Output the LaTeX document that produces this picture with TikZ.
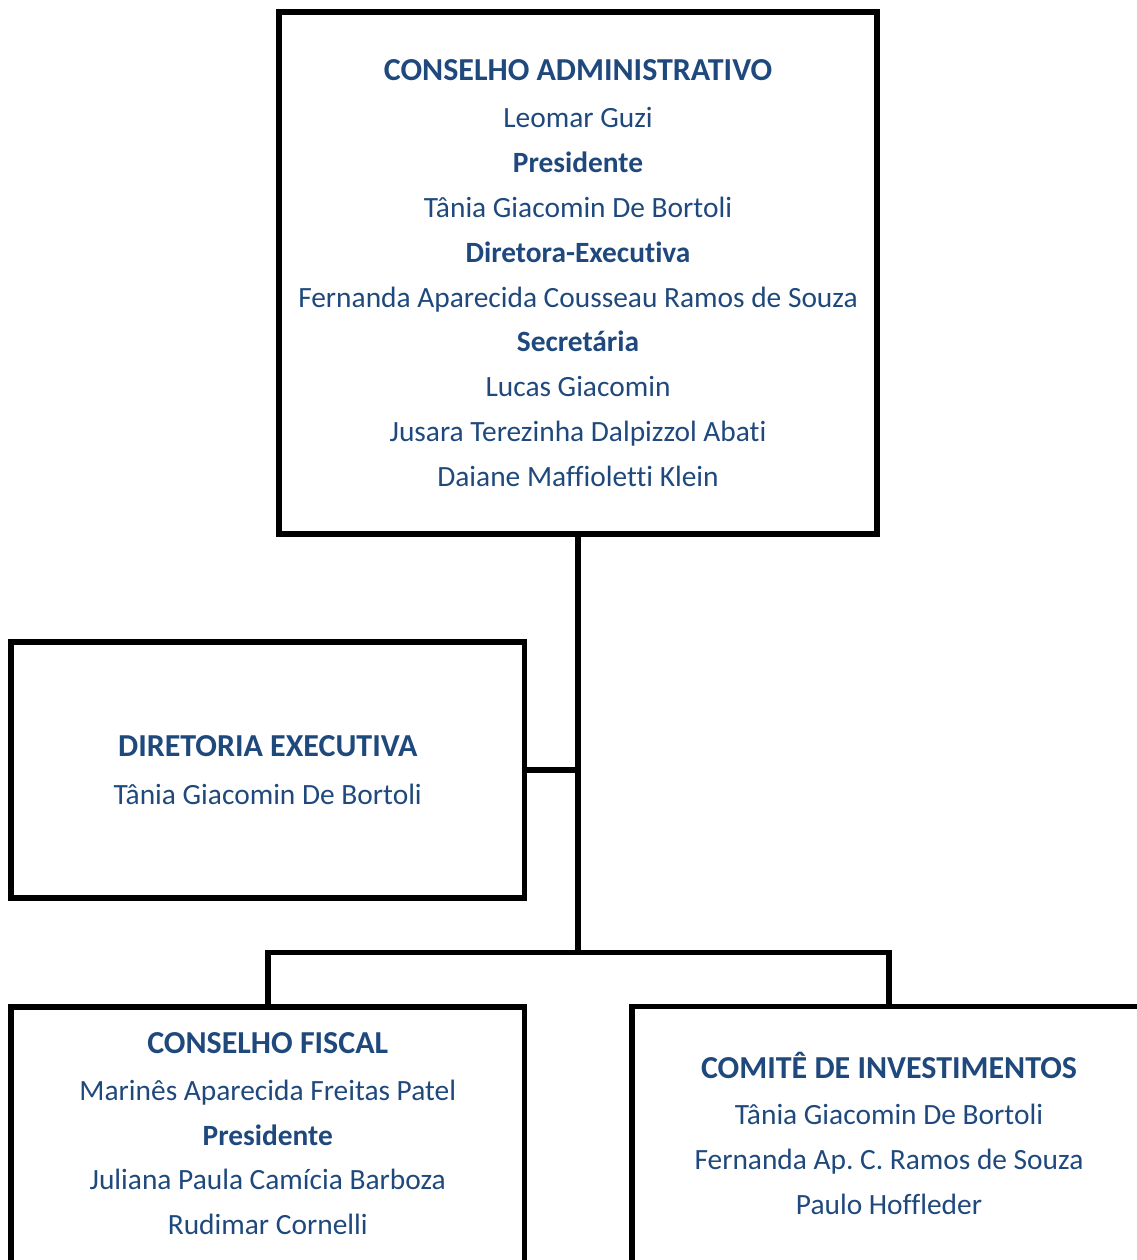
\documentclass[tikz,border=0pt]{standalone}
\usepackage{fontspec}
\setmainfont{Carlito}[Ligatures={NoCommon}]
\frenchspacing
\definecolor{txtblue}{HTML}{1F497D}
\begin{document}
\begin{tikzpicture}[x=1pt,y=-1pt,
  box/.style={draw=black,line width=5.5pt,rectangle,inner sep=0pt,outer sep=0pt},
  link/.style={draw=black,line width=5.5pt},
  ttl/.style={anchor=base,inner sep=0pt,text=txtblue,font=\fontsize{32}{38}\selectfont\bfseries},
  role/.style={anchor=base,inner sep=0pt,text=txtblue,font=\fontsize{29.4}{35}\selectfont\bfseries},
  nm/.style={anchor=base,inner sep=0pt,text=txtblue,font=\fontsize{29.4}{35}\selectfont}]
\useasboundingbox (0,0) rectangle (1136,1260);
% boxes
\node[box,minimum width=598pt,minimum height=522pt] (top) at (578,273) {};
\node[box,minimum width=513.5pt,minimum height=256pt] (dir) at (267.75,770) {};
\node[box,minimum width=513.5pt,minimum height=300pt] (fis) at (267.75,1157) {};
\node[box,minimum width=514pt,minimum height=300pt] (com) at (889,1156.5) {};
% connectors
\coordinate (junc) at (578,952.5);
\draw[link] (top.south) -- (junc);
\draw[link] (dir.east) -- (dir.east -| top.south);
\draw[link] (fis.north) |- (junc) -| (com.north);
% top box text
\node[ttl]  (t0) at (578,81) {CONSELHO ADMINISTRATIVO};
\node[nm]   (t1) at (578,128) {Leomar Guzi};
\node[role] (t2) at (578,172.75) {Presidente};
\node[nm]   (t3) at (578,217.5) {Tânia Giacomin De Bortoli};
\node[role] (t4) at (578,262.25) {Diretora-Executiva};
\node[nm]   (t5) at (578,307) {Fernanda Aparecida Cousseau Ramos de Souza};
\node[role] (t6) at (578,351.75) {Secretária};
\node[nm]   (t7) at (578,396.5) {Lucas Giacomin};
\node[nm]   (t8) at (578,441.25) {Jusara Terezinha Dalpizzol Abati};
\node[nm]   (t9) at (578,486) {Daiane Maffioletti Klein};
% diretoria
\node[ttl] (d0) at (267.75,756) {DIRETORIA EXECUTIVA};
\node[nm]  (d1) at (267.75,804) {Tânia Giacomin De Bortoli};
% fiscal
\node[ttl]  (f0) at (267.75,1053) {CONSELHO FISCAL};
\node[nm]   (f1) at (267.75,1100) {Marinês Aparecida Freitas Patel};
\node[role] (f2) at (267.75,1145) {Presidente};
\node[nm]   (f3) at (267.75,1189.5) {Juliana Paula Camícia Barboza};
\node[nm]   (f4) at (267.75,1234) {Rudimar Cornelli};
% comite
\node[ttl] (c0) at (889,1078) {COMITÊ DE INVESTIMENTOS};
\node[nm]  (c1) at (889,1124.5) {Tânia Giacomin De Bortoli};
\node[nm]  (c2) at (889,1169.5) {Fernanda Ap. C. Ramos de Souza};
\node[nm]  (c3) at (889,1214.5) {Paulo Hoffleder};
\end{tikzpicture}
\end{document}
